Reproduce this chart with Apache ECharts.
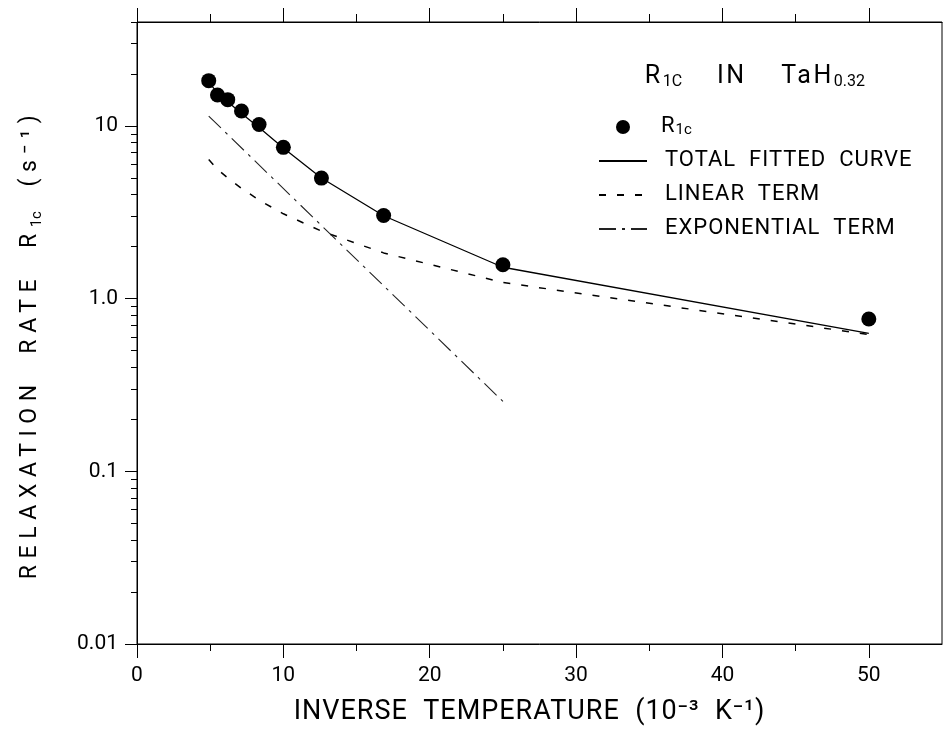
<!DOCTYPE html>
<html><head><meta charset="utf-8">
<script src="https://cdn.jsdelivr.net/npm/echarts@6/dist/echarts.min.js"></script>
<style>html,body{margin:0;padding:0;background:#fff}#c{width:943px;height:731px}</style>
</head><body><div id="c"></div>
<script>
// ---- data ----
const invT       = [4.9, 5.5, 6.2, 7.14, 8.34, 10.0, 12.6, 16.85, 25.0, 50.0];
const r1c        = [18.3, 15.1, 14.2, 12.2, 10.2, 7.52, 4.99, 3.03, 1.57, 0.762];
const totalFit   = [18.0, 15.5, 13.8, 11.8, 9.8, 7.45, 5.0, 3.02, 1.52, 0.63];
const linearTerm = [6.4, 5.6, 5.0, 4.35, 3.72, 3.1, 2.46, 1.84, 1.24, 0.62];
const expX       = [4.9, 25.0];
const expTerm    = [11.4, 0.254];
const xMajor     = [0, 10, 20, 30, 40, 50];
const xMinor     = [5, 15, 25, 35, 45];
const yMajor     = [0.01, 0.1, 1, 10];
const yLabels    = ['0.01', '0.1', '1.0', '10'];
const yMinor     = [0.02,0.03,0.04,0.05,0.06,0.07,0.08,0.09,
                    0.2,0.3,0.4,0.5,0.6,0.7,0.8,0.9,
                    2,3,4,5,6,7,8,9,20,30,40];

// ---- letter spacing by font size (plotter-style lettering) ----
const LS = {23: 6.6, 25: 2.5, 22: 1, 27: 1};
function spacingFor(font){
  const m = /(\d+(?:\.\d+)?)px/.exec(font || '');
  if (!m) return 0;
  return LS[Math.round(parseFloat(m[1]))] || 0;
}
const mctx = document.createElement('canvas').getContext('2d');
echarts.setPlatformAPI({
  measureText(text, font){
    mctx.font = font || '12px sans-serif';
    mctx.letterSpacing = spacingFor(mctx.font) + 'px';
    return mctx.measureText(text);
  }
});
(function(){
  const P = CanvasRenderingContext2D.prototype;
  const of = P.fillText, os = P.strokeText;
  P.fillText = function(t,x,y,w){ this.letterSpacing = spacingFor(this.font)+'px'; return w===undefined?of.call(this,t,x,y):of.call(this,t,x,y,w); };
  P.strokeText = function(t,x,y,w){ this.letterSpacing = spacingFor(this.font)+'px'; return w===undefined?os.call(this,t,x,y):os.call(this,t,x,y,w); };
})();

const FONT = 'Roboto';
const BLACK = '#000';
const pairs = (xs, ys) => xs.map((x, i) => [x, ys[i]]);

const chart = echarts.init(document.getElementById('c'), null, {renderer: 'canvas'});

const xBase = {
  type: 'value', min: 0, max: 55, gridIndex: 0,
  splitLine: {show: false},
  axisLine: {show: true, lineStyle: {color: BLACK, width: 1}}
};
const yBase = {
  type: 'log', logBase: 10, min: 0.01, max: 40, position: 'left',
  splitLine: {show: false}, minorTick: {show: false},
  axisLine: {show: true, lineStyle: {color: BLACK, width: 1}}
};
const lineLegend = {itemStyle: {opacity: 0}};

chart.setOption({
  animation: false,
  backgroundColor: '#fff',
  textStyle: {fontFamily: FONT, color: BLACK},
  grid: {left: 137, right: 1, top: 22, bottom: 85, show: true, borderColor: BLACK, borderWidth: 1, backgroundColor: 'transparent'},
  title: {
    text: '{a|R}{s|1C}{a|    IN    TaH}{s|0.32}',
    right: 73, top: 55,
    textStyle: {
      fontWeight: 'normal',
      rich: {
        a: {fontFamily: FONT, fontWeight: 'normal', fontSize: 25, color: BLACK, lineHeight: 30, verticalAlign: 'bottom'},
        s: {fontFamily: FONT, fontWeight: 'normal', fontSize: 16, color: BLACK, lineHeight: 14, verticalAlign: 'bottom'}
      }
    }
  },
  legend: {
    orient: 'vertical', left: 593, top: 110,
    itemWidth: 48, itemHeight: 14, itemGap: 11,
    selectedMode: false,
    data: [
      {name: 'R1c', itemStyle: {opacity: 1}},
      Object.assign({name: 'TOTAL FITTED CURVE'}, lineLegend),
      Object.assign({name: 'LINEAR TERM'}, lineLegend),
      Object.assign({name: 'EXPONENTIAL TERM'}, lineLegend)
    ],
    formatter: n => n === 'R1c' ? '{r|R}{s|1c}' : '{a|' + n.replace(/ /g, '  ') + '}',
    textStyle: {
      padding: [0, 0, 0, 13],
      rich: {
        a: {fontFamily: FONT, fontSize: 22, color: BLACK, lineHeight: 22, verticalAlign: 'bottom'},
        r: {fontFamily: FONT, fontSize: 22, color: BLACK, lineHeight: 22, verticalAlign: 'bottom', padding: [0, 0, 0, -4]},
        s: {fontFamily: FONT, fontSize: 15, color: BLACK, lineHeight: 12, verticalAlign: 'bottom'}
      }
    }
  },
  xAxis: [
    Object.assign({}, xBase, {
      position: 'bottom',
      name: 'INVERSE  TEMPERATURE  (10⁻³  K⁻¹)',
      nameLocation: 'middle', nameGap: 54,
      nameTextStyle: {fontFamily: FONT, fontSize: 27, color: BLACK, padding: [0, 20, 0, 0]},
      axisTick: {show: true, length: 14, customValues: xMajor, lineStyle: {color: BLACK}},
      axisLabel: {customValues: xMajor, fontFamily: FONT, fontSize: 21, color: BLACK, margin: 21}
    }),
    Object.assign({}, xBase, {
      position: 'bottom', axisLine: {show: false},
      axisTick: {show: true, length: 7, customValues: xMinor, lineStyle: {color: BLACK}},
      axisLabel: {show: false}
    }),
    Object.assign({}, xBase, {
      position: 'top',
      axisTick: {show: true, length: 14, customValues: xMajor, lineStyle: {color: BLACK}},
      axisLabel: {show: false}
    }),
    Object.assign({}, xBase, {
      position: 'top', axisLine: {show: false},
      axisTick: {show: true, length: 8, customValues: xMinor, lineStyle: {color: BLACK}},
      axisLabel: {show: false}
    })
  ],
  yAxis: [
    Object.assign({}, yBase, {
      name: '{a|RELAXATION  RATE  R}{s|1c}{a|  (s⁻¹)}',
      nameLocation: 'middle', nameGap: 92,
      nameTextStyle: {
        padding: [0, 22, 0, 0],
        rich: {
          a: {fontFamily: FONT, fontSize: 23, color: BLACK, lineHeight: 26, verticalAlign: 'bottom'},
          s: {fontFamily: FONT, fontSize: 15, color: BLACK, lineHeight: 14, verticalAlign: 'bottom'}
        }
      },
      axisTick: {show: true, length: 12, customValues: yMajor, lineStyle: {color: BLACK}},
      axisLabel: {
        customValues: yMajor, fontFamily: FONT, fontSize: 21, color: BLACK, margin: 19,
        formatter: v => {
          const i = yMajor.findIndex(m => Math.abs(Math.log10(m) - Math.log10(v)) < 1e-6);
          return i >= 0 ? yLabels[i] : '';
        }
      }
    }),
    Object.assign({}, yBase, {
      axisLine: {show: false},
      axisTick: {show: true, length: 6, customValues: yMinor, lineStyle: {color: BLACK}},
      axisLabel: {show: false}
    })
  ],
  series: [
    {
      name: 'R1c', type: 'scatter', xAxisIndex: 0, yAxisIndex: 0,
      data: pairs(invT, r1c), symbol: 'circle', symbolSize: 15,
      itemStyle: {color: BLACK, opacity: 1}, z: 5
    },
    {
      name: 'TOTAL FITTED CURVE', type: 'line', xAxisIndex: 0, yAxisIndex: 0,
      data: pairs(invT, totalFit), symbol: 'none', smooth: false,
      lineStyle: {color: BLACK, width: 1.3, type: 'solid'}, itemStyle: {color: BLACK}
    },
    {
      name: 'LINEAR TERM', type: 'line', xAxisIndex: 0, yAxisIndex: 0,
      data: pairs(invT, linearTerm), symbol: 'none',
      lineStyle: {color: BLACK, width: 1.5, type: [7, 11]}, itemStyle: {color: BLACK}
    },
    {
      name: 'EXPONENTIAL TERM', type: 'line', xAxisIndex: 0, yAxisIndex: 0,
      data: pairs(expX, expTerm), symbol: 'none',
      lineStyle: {color: '#222', width: 1.1, type: [17, 6, 3, 6]}, itemStyle: {color: BLACK}
    }
  ]
});
</script>
</body></html>
